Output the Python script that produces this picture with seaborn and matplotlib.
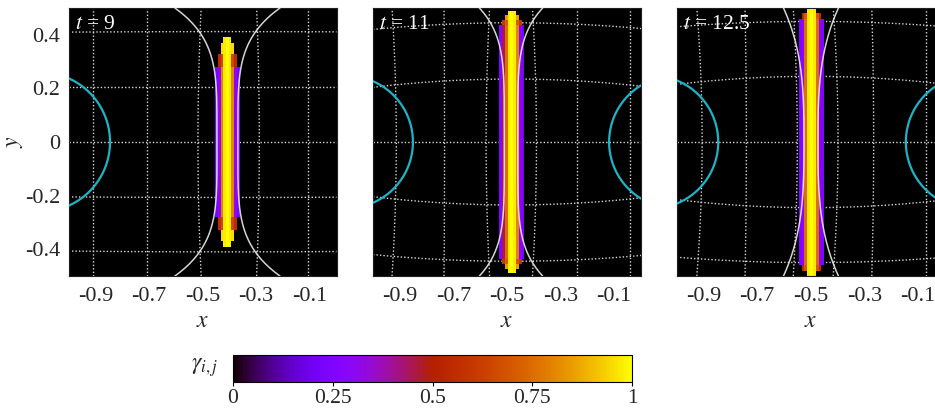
import numpy as np
import pandas as pd
import matplotlib
matplotlib.use("Agg")
import matplotlib.pyplot as plt
import seaborn as sns

# ---------------------------------------------------------------- data
time_labels = ["9", "11", "12.5"]

x_ticks = [-0.9, -0.7, -0.5, -0.3, -0.1]
y_ticks = [0.4, 0.2, 0.0, -0.2, -0.4]
y_tick_labels = ["0.4", "0.2", "0", "-0.2", "-0.4"]
cbar_ticks = [0.0, 0.25, 0.5, 0.75, 1.0]
cbar_tick_labels = ["0", "0.25", "0.5", "0.75", "1"]

# phase-field strip: centre column position, cell width, |y| band limits
strip_center = [-0.407, -0.482, -0.497]
strip_dx = [0.0101, 0.0105, 0.0105]

bands_t9 = [0.0, 0.28, 0.33, 0.37, 0.39]
gamma_t9 = [
    [0.22, 0.30, 0.80, 0.97, 1.00, 0.97, 0.80, 0.30, 0.22],
    [0.00, 0.55, 0.65, 0.97, 1.00, 0.97, 0.65, 0.55, 0.00],
    [0.00, 0.00, 0.95, 0.97, 1.00, 0.97, 0.95, 0.00, 0.00],
    [0.00, 0.00, 0.00, 0.97, 1.00, 0.97, 0.00, 0.00, 0.00],
]

bands_t11 = [0.0, 0.437, 0.455, 0.475, 0.49]
gamma_t11 = [
    [0.25, 0.45, 0.75, 0.97, 1.00, 0.97, 0.80, 0.30, 0.22],
    [0.00, 0.60, 0.70, 0.97, 1.00, 0.97, 0.70, 0.60, 0.00],
    [0.00, 0.00, 0.85, 0.97, 1.00, 0.97, 0.85, 0.00, 0.00],
    [0.00, 0.00, 0.00, 0.97, 1.00, 0.97, 0.00, 0.00, 0.00],
]

bands_t125 = [0.0, 0.46, 0.48, 0.50]
gamma_t125 = [
    [0.25, 0.30, 0.75, 0.97, 1.00, 0.97, 0.75, 0.30, 0.25],
    [0.00, 0.55, 0.70, 0.97, 1.00, 0.97, 0.70, 0.55, 0.00],
    [0.00, 0.00, 0.00, 0.97, 1.00, 0.97, 0.00, 0.00, 0.00],
]

# neck-shaped interface envelope: centre, half width at y=0, half width at |y|=0.5, shape exponent
neck_center = [-0.407, -0.485, -0.499]
neck_half = [0.039, 0.025, 0.026]
rim_half = [0.196, 0.118, 0.1025]
neck_power = [4.45, 5.0, 3.0]

# obstacles (circles centred on y=0)
circle_x_t9 = [-1.105]
circle_r_t9 = [0.26]
circle_x_t11 = [-1.098, 0.128]
circle_r_t11 = [0.247, 0.247]
circle_x_t125 = [-1.093, 0.105]
circle_r_t125 = [0.248, 0.25]

# deformed mesh lines: x at y=0 / at |y|=0.5 ; y at strip centre / at the side edges
vgrid_mid_t9 = [-0.909, -0.707, -0.517, -0.288, -0.105]
vgrid_end_t9 = [-0.909, -0.707, -0.505, -0.298, -0.105]
hgrid_mid_t9 = [0.412, 0.205, 0.0, -0.207, -0.41]
hgrid_edge_t9 = [0.41, 0.205, 0.0, -0.205, -0.407]

vgrid_mid_t11 = [-0.913, -0.733, -0.578, -0.39, -0.237, -0.041]
vgrid_end_t11 = [-0.929, -0.735, -0.565, -0.405, -0.237, -0.041]
hgrid_mid_t11 = [0.445, 0.235, 0.0, -0.235, -0.445]
hgrid_edge_t11 = [0.42, 0.204, 0.0, -0.204, -0.42]

vgrid_mid_t125 = [-0.905, -0.74, -0.55, -0.398, -0.265, -0.068]
vgrid_end_t125 = [-0.925, -0.745, -0.565, -0.416, -0.272, -0.068]
hgrid_mid_t125 = [0.45, 0.245, 0.0, -0.245, -0.45]
hgrid_edge_t125 = [0.43, 0.215, 0.0, -0.215, -0.43]

panels = [
    dict(bands=bands_t9, gamma=gamma_t9, cx=circle_x_t9, cr=circle_r_t9,
         vmid=vgrid_mid_t9, vend=vgrid_end_t9, hmid=hgrid_mid_t9, hedge=hgrid_edge_t9),
    dict(bands=bands_t11, gamma=gamma_t11, cx=circle_x_t11, cr=circle_r_t11,
         vmid=vgrid_mid_t11, vend=vgrid_end_t11, hmid=hgrid_mid_t11, hedge=hgrid_edge_t11),
    dict(bands=bands_t125, gamma=gamma_t125, cx=circle_x_t125, cr=circle_r_t125,
         vmid=vgrid_mid_t125, vend=vgrid_end_t125, hmid=hgrid_mid_t125, hedge=hgrid_edge_t125),
]

# ---------------------------------------------------------------- style
sns.set_theme(style="white")
plt.rcParams["font.family"] = ["Liberation Serif", "DejaVu Serif"]
plt.rcParams["mathtext.fontset"] = "stix"
plt.rcParams["axes.unicode_minus"] = False

CMAP = plt.get_cmap("gnuplot")
GRID_COLOR = "#d8d8d8"
CURVE_COLOR = "#ececec"
CIRCLE_COLOR = "#1fb3c6"
FS = 16

fig = plt.figure(figsize=(9.35, 4.08), dpi=100)
W, H = 935.0, 408.0
ax_w, ax_h = 268.0 / W, 268.0 / H
ax_bottom = (H - 276.0) / H
lefts = [68.5 / W, 373.0 / W, 676.7 / W]


def strip_mesh(center, dx, bands, gamma):
    g = np.asarray(gamma, dtype=float)
    ncol = g.shape[1]
    x_edges = center + (np.arange(ncol + 1) - ncol / 2.0) * dx
    lim = np.asarray(bands[1:])
    y_edges = np.concatenate([-lim[::-1], lim])
    rows = np.vstack([g[::-1], g[1:]])
    return x_edges, y_edges, np.ma.masked_less_equal(rows, 0.0)


ys = np.linspace(-0.5, 0.5, 201)
xs = np.linspace(-1.0, 0.0, 201)

for k, p in enumerate(panels):
    ax = fig.add_axes([lefts[k], ax_bottom, ax_w, ax_h])
    ax.set_facecolor("black")
    c = strip_center[k]

    # deformed mesh (dotted)
    rows = []
    n = 0
    for xm, xe in zip(p["vmid"], p["vend"]):
        xv = xe + (xm - xe) * (1.0 - (2.0 * ys) ** 2)
        rows.append(pd.DataFrame({"x": xv, "y": ys, "line": n}))
        n += 1
    L = max(c + 1.0, -c)
    for ym, yedge in zip(p["hmid"], p["hedge"]):
        yv = yedge + (ym - yedge) * (1.0 - ((xs - c) / L) ** 2)
        rows.append(pd.DataFrame({"x": xs, "y": yv, "line": n}))
        n += 1
    mesh = pd.concat(rows, ignore_index=True)
    sns.lineplot(data=mesh, x="x", y="y", units="line", estimator=None, sort=False,
                 color=GRID_COLOR, lw=1.0, linestyle=(0, (1, 1.5)), ax=ax, zorder=1)

    # order parameter strip
    xe_, ye_, M = strip_mesh(c, strip_dx[k], p["bands"], p["gamma"])
    ax.pcolormesh(xe_, ye_, M, cmap=CMAP, vmin=0, vmax=1, zorder=2)

    # obstacles
    th = np.linspace(0, 2 * np.pi, 400)
    circ = pd.concat([pd.DataFrame({"x": cx + r * np.cos(th), "y": r * np.sin(th), "c": i})
                      for i, (cx, r) in enumerate(zip(p["cx"], p["cr"]))], ignore_index=True)
    sns.lineplot(data=circ, x="x", y="y", units="c", estimator=None, sort=False,
                 color=CIRCLE_COLOR, lw=1.6, ax=ax, zorder=3)

    # neck envelope
    hw = neck_half[k] + (rim_half[k] - neck_half[k]) * (np.abs(ys) / 0.5) ** neck_power[k]
    neck = pd.concat([pd.DataFrame({"x": neck_center[k] - hw, "y": ys, "s": 0}),
                      pd.DataFrame({"x": neck_center[k] + hw, "y": ys, "s": 1})],
                     ignore_index=True)
    sns.lineplot(data=neck, x="x", y="y", units="s", estimator=None, sort=False,
                 color=CURVE_COLOR, lw=1.1, alpha=0.9, ax=ax, zorder=4)

    ax.set_xlim(-1.0, 0.0)
    ax.set_ylim(-0.5, 0.5)
    ax.set_xticks(x_ticks)
    ax.set_xticklabels([f"{v:.1f}" for v in x_ticks])
    ax.set_yticks(y_ticks)
    if k == 0:
        ax.set_yticklabels(y_tick_labels)
        ax.set_ylabel("$y$", fontsize=FS + 1, va="center", ha="center")
        ax.yaxis.set_label_coords(-0.2, 0.5)
    else:
        ax.set_yticklabels([])
        ax.set_ylabel("")
    ax.set_xlabel("$x$", fontsize=FS + 1, va="center", ha="center")
    ax.xaxis.set_label_coords(0.5, -0.17)
    ax.tick_params(axis="both", length=0, labelsize=FS)
    ax.tick_params(axis="x", pad=8)
    ax.tick_params(axis="y", pad=6)
    for s in ax.spines.values():
        s.set_color("#202020")
        s.set_linewidth(0.8)
    ax.text(0.024, 0.94, f"$t$ = {time_labels[k]}", transform=ax.transAxes,
            color="white", fontsize=FS - 0.5, ha="left", va="center", zorder=6)

# colour bar
cax = fig.add_axes([232.7 / W, (H - 381.7) / H, 399.6 / W, 26.7 / H])
sm = matplotlib.cm.ScalarMappable(norm=matplotlib.colors.Normalize(0, 1), cmap=CMAP)
cb = fig.colorbar(sm, cax=cax, orientation="horizontal")
cb.set_ticks(cbar_ticks)
cb.set_ticklabels(cbar_tick_labels)
cb.outline.set_edgecolor("black")
cb.outline.set_linewidth(0.8)
cax.tick_params(axis="x", direction="out", length=3, width=0.8, labelsize=FS - 0.5, pad=2, color="black")
fig.text(205.0 / W, (H - 368.0) / H, r"$\gamma_{i,j}$", fontsize=FS + 1, ha="center", va="center")

fig.savefig("out.png", dpi=100, facecolor="white")
